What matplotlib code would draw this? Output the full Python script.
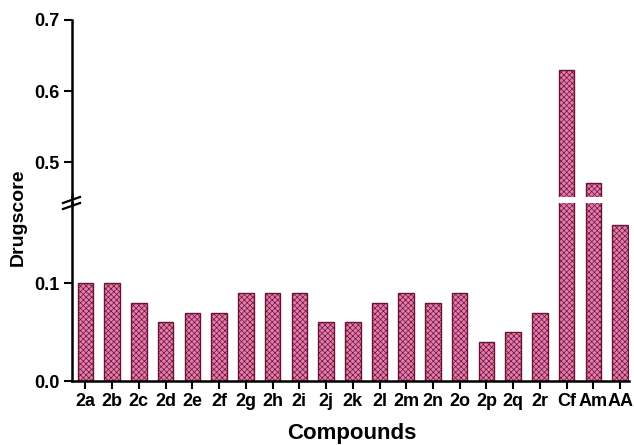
import numpy as np
import matplotlib.pyplot as plt
from matplotlib.lines import Line2D

plt.rcParams['font.family'] = ['Liberation Sans', 'DejaVu Sans']
plt.rcParams['font.weight'] = 'bold'
plt.rcParams['hatch.color'] = '#b8306e'
plt.rcParams['hatch.linewidth'] = 0.5

compounds = ['2a', '2b', '2c', '2d', '2e', '2f', '2g', '2h', '2i', '2j', '2k',
             '2l', '2m', '2n', '2o', '2p', '2q', '2r', 'Cf', 'Am', 'AA']
drugscore = [0.10, 0.10, 0.08, 0.06, 0.07, 0.07, 0.09, 0.09, 0.09, 0.06, 0.06,
             0.08, 0.09, 0.08, 0.09, 0.04, 0.05, 0.07, 0.63, 0.47, 0.16]
low_ticks = [0.0, 0.1]
high_ticks = [0.5, 0.6, 0.7]

W, H = 634, 445
fig = plt.figure(figsize=(W / 100, H / 100), dpi=100)

def frac(x0, y0, x1, y1):
    # pixel box (top-left origin) -> figure fraction
    return [x0 / W, 1 - y1 / H, (x1 - x0) / W, (y1 - y0) / H]

ax_hi = fig.add_axes(frac(72, 20, 629, 197))
ax_lo = fig.add_axes(frac(72, 203, 629, 381))

x = np.arange(len(compounds))
for ax in (ax_hi, ax_lo):
    ax.bar(x, drugscore, width=0.58, color='#e47cb2', edgecolor='#6a1530',
           linewidth=1.0, hatch='xxxxxx')
    ax.set_xlim(-0.5, 20.33)
    for s in ('top', 'right'):
        ax.spines[s].set_visible(False)
    ax.spines['left'].set_linewidth(1.8)
    ax.spines['bottom'].set_linewidth(1.8)
    ax.tick_params(axis='y', direction='out', length=6, width=1.5,
                   labelsize=13, pad=3)

ax_hi.set_ylim(0.451, 0.7)
ax_hi.set_yticks(high_ticks)
ax_hi.set_yticklabels(['%.1f' % v for v in high_ticks])
ax_hi.spines['bottom'].set_visible(False)
ax_hi.set_xticks([])

ax_lo.set_ylim(0, 0.182)
ax_lo.set_yticks(low_ticks)
ax_lo.set_yticklabels(['%.1f' % v for v in low_ticks])
ax_lo.set_xticks(x)
ax_lo.set_xticklabels(compounds)
ax_lo.tick_params(axis='x', direction='out', length=6, width=1.5,
                  labelsize=13, pad=3)

# axis line through the gap and break marks
def pix_line(xs, ys, **kw):
    fig.add_artist(Line2D([v / W for v in xs], [1 - v / H for v in ys],
                          transform=fig.transFigure, color='black', **kw))

pix_line([72, 72], [196, 204], linewidth=1.8)
pix_line([63, 80], [203, 197], linewidth=1.6)
pix_line([63, 80], [209, 203], linewidth=1.6)

fig.text(18 / W, 1 - 217 / H, 'Drugscore', rotation=90, ha='center',
         va='center', fontsize=14, fontweight='bold')
fig.text(352 / W, 1 - 434 / H, 'Compounds', ha='center', va='center',
         fontsize=16, fontweight='bold')

fig.savefig('out.png', dpi=100)
